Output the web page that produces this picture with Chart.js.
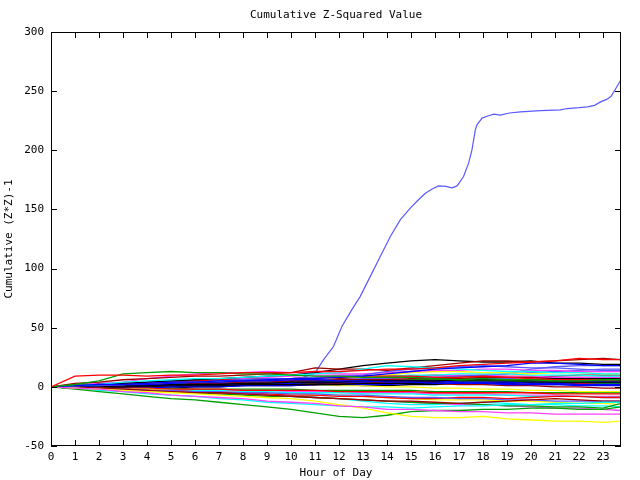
<!DOCTYPE html>
<html><head><meta charset="utf-8">
<script src="https://cdn.jsdelivr.net/npm/chart.js@4/dist/chart.umd.min.js"></script>
<style>html,body{margin:0;padding:0;background:#fff}#wrap{width:640px;height:480px}</style>
</head><body><div id="wrap"><canvas id="c" width="640" height="480"></canvas></div>
<script>
// ---- data ----
const chartTitle = 'Cumulative Z-Squared Value';
const xTitle = 'Hour of Day';
const yTitle = 'Cumulative (Z*Z)-1';
const hours = [0,1,2,3,4,5,6,7,8,9,10,11,12,13,14,15,16,17,18,19,20,21,22,23,23.75];

const run01 = [0,9,10,10,9,10,10,11,12,12,12,13,13,14,15,15,16,18,19,20,21,22,24,23,23];
const run02 = [0,2,5,11,12,13,12,12,11,11,10,9,9,8,8,8,7,6,7,6,6,5,5,6,6];
const run03 = [0,1,2,2,3,4,4,5,5,6,7,7,8,9,11,13,15,16,17,18,20,20,19,18,18];
const run04 = [0,-1,-2,-4,-5,-7,-8,-9,-10,-12,-13,-14,-16,-17,-19,-19,-20,-21,-21,-22,-22,-23,-23,-23,-23];
const run05 = [0,1,2,4,5,6,7,7,8,9,10,11,12,15,18,17,16,15,14,13,13,12,12,11,11];
const run06 = [0,3,4,6,7,8,9,9,10,11,12,16,15,15,14,16,18,20,22,22,21,22,23,24,23];
const run07 = [0,-1,-2,-3,-4,-5,-6,-7,-8,-9,-10,-12,-15,-18,-22,-25,-26,-26,-25,-27,-28,-29,-29,-30,-29];
const run08 = [0,1,2,3,4,5,6,7,8,9,10,12,15,18,20,22,23,22,21,21,22,20,20,19,19];
const run09 = [0,1,1,2,3,4,4,5,6,7,7,8,9,10,13,15,16,17,18,17,16,16,15,14,14];
const run10 = [0,1,2,3,3,4,5,6,6,7,7,8,8,9,9,9,8,8,9,8,7,6,6,6,6];
const run11 = [0,-2,-4,-6,-8,-10,-11,-13,-15,-17,-19,-22,-25,-26,-24,-21,-20,-20,-19,-19,-18,-18,-19,-19,-17];
const run12 = [0,1,1,2,2,3,4,4,5,5,6,6,5,5,4,4,3,3,3,2,2,2,1,1,1];
const run13 = [0,2,3,4,7,9,11,12,12,13,12,12,11,11,12,13,14,14,15,15,14,14,13,13,13];
const run14 = [0,-1,-3,-4,-6,-7,-8,-10,-11,-13,-14,-15,-16,-17,-17,-18,-17,-16,-16,-15,-15,-14,-14,-13,-13];
const run15 = [0,0,-1,-2,-3,-4,-5,-5,-6,-7,-8,-9,-10,-11,-12,-12,-13,-14,-13,-12,-11,-10,-11,-12,-12];
const run16 = [0,1,2,2,3,4,4,5,6,6,7,7,8,8,10,12,13,13,12,12,11,12,12,11,11];
const run17 = [0,0,0,1,1,2,2,2,3,3,4,4,4,5,5,5,5,6,6,6,6,7,7,7,7];
const run18 = [0,-1,-2,-2,-3,-3,-4,-4,-5,-5,-6,-6,-7,-7,-8,-9,-9,-10,-10,-11,-11,-12,-12,-12,-12];
const run19 = [0,-1,-1,-2,-3,-3,-4,-5,-5,-6,-7,-7,-8,-8,-9,-10,-10,-9,-9,-10,-9,-8,-8,-9,-9];
const run20 = [0,-1,-2,-2,-3,-4,-5,-6,-7,-8,-8,-9,-10,-11,-12,-13,-14,-14,-15,-16,-16,-17,-17,-18,-14];
const run21 = [0,0,1,1,1,2,2,2,3,3,3,4,4,4,5,5,5,4,4,4,3,3,2,2,2];
const run22 = [0,-1,-2,-3,-3,-4,-5,-6,-6,-7,-8,-9,-10,-11,-12,-13,-14,-15,-15,-16,-17,-18,-18,-19,-20];
const run23 = [0,1,1,2,2,3,4,5,6,7,7,8,8,9,9,10,10,11,11,11,10,10,10,9,9];
const run24 = [0,0,1,1,2,2,3,3,4,4,5,5,6,6,6,7,7,7,8,8,8,7,7,7,7];
const run25 = [0,-1,-1,-2,-2,-3,-4,-4,-5,-6,-6,-7,-7,-8,-9,-10,-11,-11,-11,-12,-12,-13,-14,-14,-15];
const run26 = [0,0,0,0,1,1,1,1,2,2,2,2,2,3,3,3,3,3,3,4,4,4,4,4,4];
const run27 = [0,1,2,2,3,3,4,4,5,5,6,6,6,7,7,8,8,9,10,11,12,13,14,15,15];
const run28 = [0,0,-1,-1,-1,-2,-2,-2,-3,-3,-3,-3,-4,-4,-4,-4,-5,-5,-5,-5,-5,-6,-6,-6,-6];
const run29 = [0,0,1,1,2,2,3,3,3,4,4,4,5,5,5,6,6,5,5,5,4,4,4,3,3];
const run30 = [0,0,-1,-1,-1,0,0,0,1,1,1,2,2,2,2,3,3,3,3,3,4,4,4,4,4];
const run31 = [0,1,2,3,4,5,6,7,7,8,9,10,10,10,9,9,9,10,10,9,9,8,8,8,8];
const run32 = [0,-1,-1,-2,-2,-3,-3,-3,-4,-4,-5,-5,-5,-6,-6,-6,-7,-7,-7,-7,-8,-8,-8,-9,-9];
const run33 = [0,1,1,2,1,1,2,2,3,3,2,2,3,3,4,3,3,2,2,1,1,0,0,-1,-1];
const run34 = [0,1,1,1,2,2,2,3,3,3,2,2,1,1,0,0,-1,-1,-2,-2,-3,-3,-4,-4,-4];
const run35 = [0,-1,-1,0,0,1,1,2,2,2,3,3,3,3,4,4,4,5,5,5,6,6,6,6,6];
const run36 = [0,0,1,1,2,2,3,3,3,4,4,5,5,5,6,6,6,7,7,7,8,8,8,8,8];
const run37 = [0,0,1,1,2,2,2,3,3,3,4,4,4,4,4,5,5,5,5,4,4,4,3,3,3];
const run38 = [0,0,-1,-1,-1,-1,-2,-2,-2,-2,-2,-3,-3,-3,-3,-3,-4,-4,-4,-4,-5,-5,-5,-5,-5];
const run39 = [0,-1,-1,-1,0,0,1,1,1,2,2,2,3,3,3,4,4,4,4,5,5,5,5,5,5];
const run40 = [0,0,-1,-1,-2,-2,-2,-3,-3,-3,-4,-4,-4,-5,-5,-5,-6,-6,-6,-7,-7,-7,-8,-8,-8];
const run41 = [0,0,-1,-2,-3,-4,-4,-5,-6,-7,-8,-9,-10,-12,-14,-15,-15,-14,-13,-14,-15,-15,-16,-16,-17];
const run42 = [0,1,2,2,3,4,4,5,6,6,5,6,7,8,9,9,10,9,9,8,8,9,10,10,10];
const run43 = [0,0,1,1,1,2,3,3,4,5,5,6,6,7,7,8,8,8,9,9,9,8,8,8,8];
const run44 = [0,1,0,0,-1,-1,0,0,1,1,1,2,2,1,1,2,2,3,3,3,2,2,3,3,3];
const run45 = [0,0,1,1,2,2,3,3,3,4,4,4,5,5,5,5,6,7,9,11,15,17,18,18,18];

const bigHours = [0,1,2,3,4,5,6,7,8,9,10,10.5,11,11.35,11.77,12.12,12.53,12.88,13.3,13.72,14.14,14.55,14.97,15.3,15.6,15.9,16.15,16.45,16.71,16.92,17.19,17.4,17.54,17.68,17.75,17.96,18.2,18.45,18.73,19.1,19.56,20.4,21.23,21.51,22.0,22.35,22.65,22.9,23.15,23.33,23.54,23.75];
const bigValues = [0,1,3,3,4,5,5,6,6,7,7,8,11.6,22.8,34.1,51,65.1,76.3,93.2,110.2,127.1,141.2,151.1,158,163.7,167.5,169.9,169.5,168.2,169.9,177.8,189.1,200.4,217.3,221.5,227.2,229,230.5,229.7,231.5,232.5,233.5,234.2,235.3,236,236.7,238,240.9,243,245.4,252.5,259.5];

const yTicksMin = -50, yTicksMax = 300, yStep = 50;
const xMin = 0, xMax = 23.75;

const runs = [run01,run02,run03,run04,run05,run06,run07,run08,run09,run10,run11,run12,run13,run14,run15,
  run16,run17,run18,run19,run20,run21,run22,run23,run24,run25,run26,run27,run28,run29,run30,
  run31,run32,run33,run34,run35,run36,run37,run38,run39,run40,run41,run42,run43,run44,run45];

// ---- styles ----
const palette = ['#ff0000','#00a000','#0000ff','#ff40ff','#00ffff','#a00000','#ffff00','#000000','#5a5aff'];
const FONT = {family: '"DejaVu Sans Mono", monospace', size: 11, weight: 'normal'};

const datasets = runs.map((vals, i) => ({
  data: vals.map((v, j) => ({x: hours[j], y: v})),
  borderColor: palette[i % palette.length],
  borderWidth: 1.3, pointRadius: 0, tension: 0, fill: false
}));
datasets.splice(20, 0, {
  data: bigValues.map((v, j) => ({x: bigHours[j], y: v})),
  borderColor: '#5a5aff', borderWidth: 1.2, pointRadius: 0, tension: 0, fill: false
});

const frame = {
  id: 'frame',
  afterDraw(chart) {
    const {ctx, chartArea: {left, right, top, bottom}, scales: {x, y}} = chart;
    const L = 6;
    ctx.save();
    ctx.strokeStyle = '#000';
    ctx.lineWidth = 1;
    ctx.beginPath();
    x.ticks.forEach(t => {
      const px = Math.round(x.getPixelForValue(t.value)) + 0.5;
      ctx.moveTo(px, bottom); ctx.lineTo(px, bottom - L);
      ctx.moveTo(px, top); ctx.lineTo(px, top + L);
    });
    y.ticks.forEach(t => {
      const py = Math.round(y.getPixelForValue(t.value)) + 0.5;
      ctx.moveTo(left, py); ctx.lineTo(left + L, py);
      ctx.moveTo(right, py); ctx.lineTo(right - L, py);
    });
    ctx.stroke();
    ctx.strokeRect(Math.round(left) + 0.5, Math.round(top) + 0.5,
      Math.round(right) - Math.round(left) - 1, Math.round(bottom) - Math.round(top) - 1);
    ctx.restore();
  }
};

new Chart(document.getElementById('c'), {
  type: 'line',
  data: {datasets},
  options: {
    responsive: false, animation: false, devicePixelRatio: 1,
    layout: {padding: {left: 0, right: 19, top: 0, bottom: 0}},
    plugins: {
      legend: {display: false}, tooltip: {enabled: false},
      title: {display: true, text: chartTitle, color: '#000', font: FONT, fullSize: false,
        padding: {top: 9, bottom: 9.8}}
    },
    scales: {
      x: {
        type: 'linear', min: xMin, max: xMax,
        ticks: {stepSize: 1, color: '#000', font: FONT, padding: 5, autoSkip: false, maxRotation: 0, includeBounds: false},
        afterBuildTicks: s => { s.ticks = s.ticks.filter(t => Number.isInteger(t.value) && t.value <= 23); },
        grid: {display: false, drawTicks: false}, border: {display: false},
        title: {display: true, text: xTitle, color: '#000', font: FONT, padding: {top: 0, bottom: 0}},
        afterFit: s => { s.height = 34; }
      },
      y: {
        min: yTicksMin, max: yTicksMax,
        ticks: {stepSize: yStep, color: '#000', font: FONT, padding: 7},
        grid: {display: false, drawTicks: false}, border: {display: false},
        title: {display: true, text: yTitle, color: '#000', font: FONT, padding: {top: 3, bottom: 0}},
        afterFit: s => { s.width = 51; }
      }
    }
  },
  plugins: [frame]
});
</script></body></html>
